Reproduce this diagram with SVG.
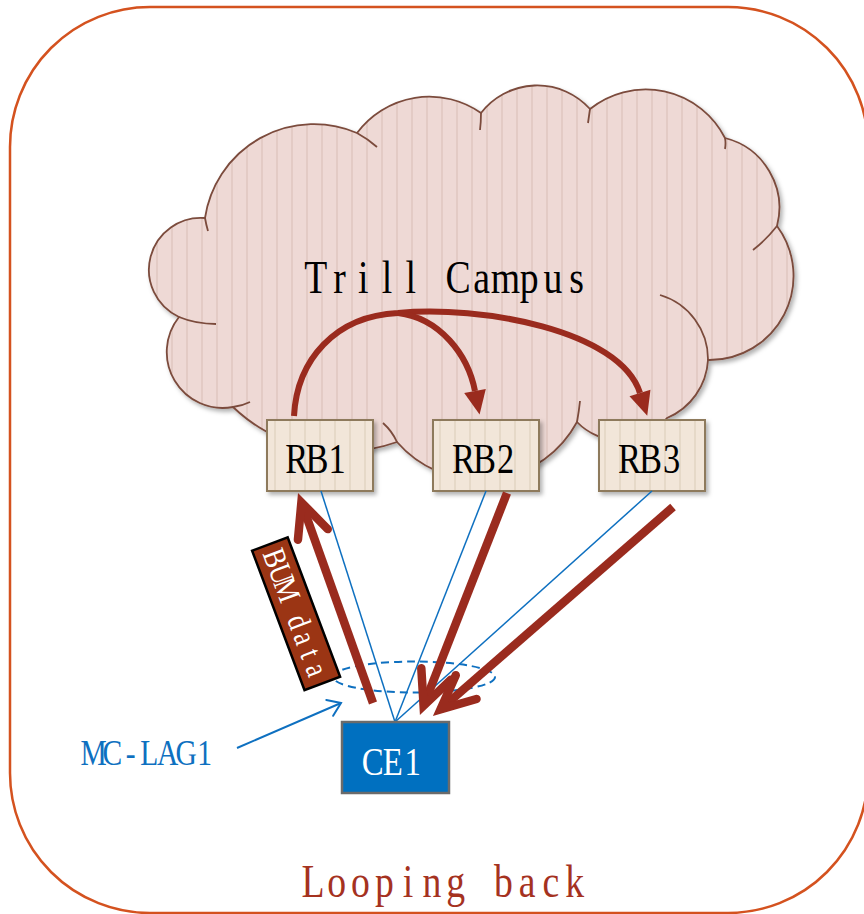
<svg xmlns="http://www.w3.org/2000/svg" width="864" height="914" viewBox="0 0 864 914">
  <defs>
    <style>
      .frame{fill:none;stroke:#D4521F;stroke-width:2.5}
      .cloud{fill:url(#cloudStripes);stroke:#7B4B3C;stroke-width:1.8}
      .tail{fill:none;stroke:#7B4B3C;stroke-width:1.8}
      .rb rect{fill:url(#boxStripes);stroke:#8E7A5C;stroke-width:2}
      .serif{font-family:"Liberation Serif","Noto Sans CJK SC",serif;text-anchor:middle}
      .rbtxt{font-size:42px;fill:#000}
      .link{fill:none;stroke:#0E70C0;stroke-width:1.5}
      .flow{fill:none;stroke:#9A2B1E;stroke-width:6}
      .flowThick{fill:none;stroke:#9A2B1E;stroke-width:8.5;stroke-linecap:butt}
    </style>
    <pattern id="cloudStripes" patternUnits="userSpaceOnUse" width="15" height="20">
      <rect width="15" height="20" fill="#EED9D5"/>
      <rect x="6" width="2" height="20" fill="#E3CBC5"/>
    </pattern>
    <pattern id="boxStripes" patternUnits="userSpaceOnUse" width="15" height="20">
      <rect width="15" height="20" fill="#F2E6D9"/>
      <rect x="4" width="2" height="20" fill="#E6D9C8"/>
    </pattern>
    <filter id="shadow" x="-10%" y="-10%" width="125%" height="130%">
      <feDropShadow dx="2.5" dy="3" stdDeviation="2" flood-color="#000" flood-opacity="0.3"/>
    </filter>
    <marker id="headFill" markerUnits="userSpaceOnUse" markerWidth="30" markerHeight="30" orient="auto" overflow="visible">
      <path d="M24,0 L0,-11 L0,11 Z" fill="#9A2B1E"/>
    </marker>
    <marker id="headOpen" markerUnits="userSpaceOnUse" markerWidth="40" markerHeight="40" orient="auto" overflow="visible">
      <path d="M-34,-15.8 L0,0 L-34,15.8" fill="none" stroke="#9A2B1E" stroke-width="8.5" stroke-linecap="round" stroke-linejoin="miter"/>
    </marker>
    <marker id="headBlue" markerUnits="userSpaceOnUse" markerWidth="20" markerHeight="20" orient="auto" overflow="visible">
      <path d="M-12.3,-8.6 L0,0 L-12.3,8.6" fill="none" stroke="#0E70C0" stroke-width="2" stroke-linecap="round"/>
    </marker>
  </defs>

  <rect class="frame" x="10" y="7" width="858" height="906" rx="140" ry="140"/>

  <!-- cloud -->
  <g id="trill-campus">
    <path class="cloud" filter="url(#shadow)" d="M233,407 A56,56 0 0 1 179,317 A52,52 0 0 1 205,218 A110,110 0 0 1 357,133 A90,90 0 0 1 481,113 A71,71 0 0 1 590,109 A89,89 0 0 1 725,138 A72,72 0 0 1 777,226 A84,84 0 0 1 708,360 A67,67 0 0 1 667,418 A60,60 0 0 1 577,422 A110,110 0 0 1 397,442 A160,160 0 0 1 233,407 Z"/>
    <path class="tail" d="M205,218 Q206,224 208,231 M179,317 Q196,324 216,324 M233,407 Q242,406 250,402 M383,423 Q392,431 397,442 M577,422 Q579,411 580,401 M708,360 A67,67 0 0 0 660,295 M777,226 Q766,240 753,250 M725,138 Q726,143 725,149 M590,109 Q589,116 588,123 M481,113 Q481,122 480,130 M357,133 Q368,139 377,147"/>
    <text class="serif" transform="scale(0.82 1)" font-size="46" y="293" x="385.2 414.1 443.0 471.9 500.8 529.7 558.6 587.5 616.4 645.3 674.2 703.1">Trill Campus</text>
  </g>

  <!-- bridges -->
  <g id="rb1" class="rb">
    <rect x="267" y="420" width="106" height="71" filter="url(#shadow)"/>
    <text class="serif rbtxt" transform="scale(0.82 1)" y="472.7" x="362.0 386.6 411.2">RB1</text>
  </g>
  <g id="rb2" class="rb">
    <rect x="433" y="420" width="106" height="71" filter="url(#shadow)"/>
    <text class="serif rbtxt" transform="scale(0.82 1)" y="472.7" x="565.2 590.9 616.5">RB2</text>
  </g>
  <g id="rb3" class="rb">
    <rect x="599" y="420" width="106" height="71" filter="url(#shadow)"/>
    <text class="serif rbtxt" transform="scale(0.82 1)" y="472.7" x="767.7 793.3 818.9">RB3</text>
  </g>

  <!-- connectors -->
  <g id="connectors">
    <line class="link" x1="321" y1="491" x2="395" y2="722"/>
    <line class="link" x1="486" y1="491" x2="395" y2="722"/>
    <line class="link" x1="652" y1="491" x2="395" y2="722"/>
    <ellipse cx="414" cy="677" rx="81" ry="15.5" fill="none" stroke="#0E70C0" stroke-width="2" stroke-dasharray="8 5"/>
    <path class="flow" d="M294,416 C297,360 335,316 398,313 C480,305 620,330 640,393" marker-end="url(#headFill)"/>
    <path class="flow" d="M398,313 C440,318 468,355 475,391" marker-end="url(#headFill)"/>
    <line class="flowThick" x1="373" y1="703" x2="301.4" y2="502.4" marker-end="url(#headOpen)"/>
    <line class="flowThick" x1="507" y1="493" x2="423.6" y2="705.7" marker-end="url(#headOpen)"/>
    <line class="flowThick" x1="673" y1="507" x2="440.5" y2="709.4" marker-end="url(#headOpen)"/>
    <line x1="237" y1="748" x2="341" y2="703" stroke="#0E70C0" stroke-width="2" marker-end="url(#headBlue)"/>
  </g>

  <!-- BUM data tag -->
  <g id="bum-data" transform="translate(296.1 613.75) rotate(69.4)">
    <rect x="-74.5" y="-19" width="149" height="38" fill="#9B3514" stroke="#000" stroke-width="2.5"/>
    <text class="serif" transform="scale(0.82 1)" font-size="32" fill="#FFFFFF" y="10.6" x="-72.6 -51.8 -31.1 -10.4 10.4 31.1 51.8 72.6">BUM data</text>
  </g>

  <!-- customer edge -->
  <g id="ce1">
    <rect x="342" y="722" width="107" height="71" fill="#0070C0" stroke="#6B6B6B" stroke-width="2.5"/>
    <text class="serif" transform="scale(0.82 1)" font-size="40" fill="#FFFFFF" y="775" x="454.5 478.9 503.3">CE1</text>
  </g>

  <g id="mc-lag1">
    <text class="serif" transform="scale(0.82 1)" font-size="36" fill="#0E70C0" y="765" x="114.3 136.9 159.5 182.0 204.6 227.1 249.7">MC-LAG1</text>
  </g>

  <g id="caption">
    <text class="serif" transform="scale(0.82 1)" font-size="46" fill="#A5321F" y="897" x="381.6 410.6 439.6 468.7 497.7 526.7 555.7 584.8 613.8 642.8 671.8 700.9">Looping back</text>
  </g>
</svg>
